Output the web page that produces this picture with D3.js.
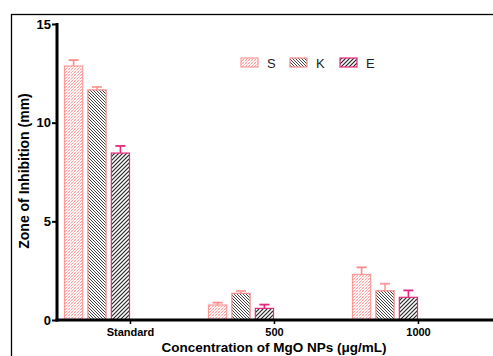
<!DOCTYPE html>
<html><head><meta charset="utf-8">
<script src="https://cdn.jsdelivr.net/npm/d3@7/dist/d3.min.js"></script>
<style>html,body{margin:0;padding:0;background:#fff;overflow:hidden}</style>
</head><body>
<svg id="c" width="493" height="356"></svg>
<script>
const categories = ["Standard", "500", "1000"];
const series = ["S", "K", "E"];
const valuesS = [12.87, 0.76, 2.31];
const errorsS = [0.30, 0.12, 0.36];
const valuesK = [11.66, 1.35, 1.48];
const errorsK = [0.15, 0.12, 0.36];
const valuesE = [8.46, 0.59, 1.15];
const errorsE = [0.36, 0.19, 0.35];
const yTicks = [0, 5, 10, 15];

const svg = d3.select("#c");
const font = "'Liberation Sans', Arial, sans-serif";
const defs = svg.append("defs");

function hatch(id, lines, size) {
  const p = defs.append("pattern").attr("id", id).attr("patternUnits", "userSpaceOnUse")
    .attr("width", size).attr("height", size);
  p.append("rect").attr("width", size).attr("height", size).attr("fill", "#fff");
  lines.forEach(l => p.append("path").attr("d", l.d).attr("stroke", l.c).attr("stroke-width", l.w).attr("fill", "none"));
}
hatch("pS", [
  {d: "M0,3 L3,0 M-1,1 L1,-1 M2,4 L4,2", c: "#ffa0a0", w: 1.0},
  {d: "M0,0 L3,3", c: "#ffd6d6", w: 0.7}
], 3);
hatch("pK", [
  {d: "M0,0 L3,3 M-1,2 L1,4 M2,-1 L4,1", c: "#3a3a3a", w: 0.95}
], 3);
hatch("pE", [
  {d: "M0,4 L4,0 M-1,1 L1,-1 M3,5 L5,3", c: "#222", w: 1.1},
  {d: "M0,0 L4,4", c: "#aaa", w: 0.6}
], 4);

const fills = {S: "url(#pS)", K: "url(#pK)", E: "url(#pE)"};
const strokes = {S: "#ff9a9a", K: "#f08a8a", E: "#e8287e"};
const errColors = {S: "#ff8a8a", K: "#ff9a9a", E: "#e8287e"};
const vals = {S: valuesS, K: valuesK, E: valuesE};
const errs = {S: errorsS, K: errorsK, E: errorsE};

svg.append("rect").attr("x", 11.5).attr("y", 14.5).attr("width", 520).attr("height", 400)
  .attr("fill", "none").attr("stroke", "#000").attr("stroke-width", 1.3);

const y = d3.scaleLinear().domain([0, 15]).range([320, 24]);
const x = d3.scalePoint().domain(categories).range([130, 418]);
const sub = d3.scaleBand().domain(series).range([-66, 0]).paddingInner(0.18);

series.forEach(s => {
  const g = svg.append("g");
  categories.forEach((c, i) => {
    const v = vals[s][i], e = errs[s][i];
    const x0 = x(c) + sub(s), w = sub.bandwidth();
    g.append("rect").attr("x", x0 + 0.5).attr("y", y(v)).attr("width", w - 1).attr("height", y(0) - y(v))
      .attr("fill", fills[s]).attr("stroke", strokes[s]).attr("stroke-width", 1.2);
    const cx = x0 + w / 2;
    g.append("line").attr("x1", cx).attr("x2", cx).attr("y1", y(v)).attr("y2", y(v + e))
      .attr("stroke", errColors[s]).attr("stroke-width", 1.6);
    g.append("line").attr("x1", cx - 5).attr("x2", cx + 5).attr("y1", y(v + e)).attr("y2", y(v + e))
      .attr("stroke", errColors[s]).attr("stroke-width", 1.8);
  });
});

const ya = svg.append("g").attr("transform", "translate(57,0)")
  .call(d3.axisLeft(y).tickValues(yTicks).tickSize(5).tickPadding(1).tickFormat(d3.format("d")));
ya.select(".domain").remove();
ya.selectAll(".tick line").attr("stroke", "#000").attr("stroke-width", 2);
ya.selectAll("text").attr("font-family", font).attr("font-weight", "bold").attr("font-size", 13).attr("fill", "#000");
svg.append("line").attr("x1", 57).attr("x2", 57).attr("y1", y(15) - 1).attr("y2", y(0) + 1.5)
  .attr("stroke", "#000").attr("stroke-width", 3);

const xa = svg.append("g").attr("transform", "translate(0,320)")
  .call(d3.axisBottom(x).tickSize(4).tickPadding(4));
xa.select(".domain").remove();
xa.selectAll(".tick line").attr("stroke", "#000").attr("stroke-width", 1.5);
xa.selectAll("text").attr("font-family", font).attr("font-weight", "bold").attr("font-size", 11).attr("fill", "#000");
svg.append("line").attr("x1", 55.5).attr("x2", 493).attr("y1", 320).attr("y2", 320)
  .attr("stroke", "#000").attr("stroke-width", 3);

svg.append("text").attr("transform", "translate(29,171) rotate(-90)").attr("text-anchor", "middle")
  .attr("font-family", font).attr("font-weight", "bold").attr("font-size", 14).text("Zone of Inhibition (mm)");
svg.append("text").attr("x", 274).attr("y", 351.5).attr("text-anchor", "middle")
  .attr("font-family", font).attr("font-weight", "bold").attr("font-size", 13.5).text("Concentration of MgO NPs (\u03bcg/mL)");

const lg = svg.append("g");
const legX = [241, 290, 340];
series.forEach((s, i) => {
  lg.append("rect").attr("x", legX[i]).attr("y", 58).attr("width", 17).attr("height", 9)
    .attr("fill", fills[s]).attr("stroke", strokes[s]).attr("stroke-width", 1.2);
  lg.append("text").attr("x", legX[i] + 26).attr("y", 67.5).attr("font-family", font)
    .attr("font-size", 13).attr("fill", "#222").text(s);
});
</script>
</body></html>
